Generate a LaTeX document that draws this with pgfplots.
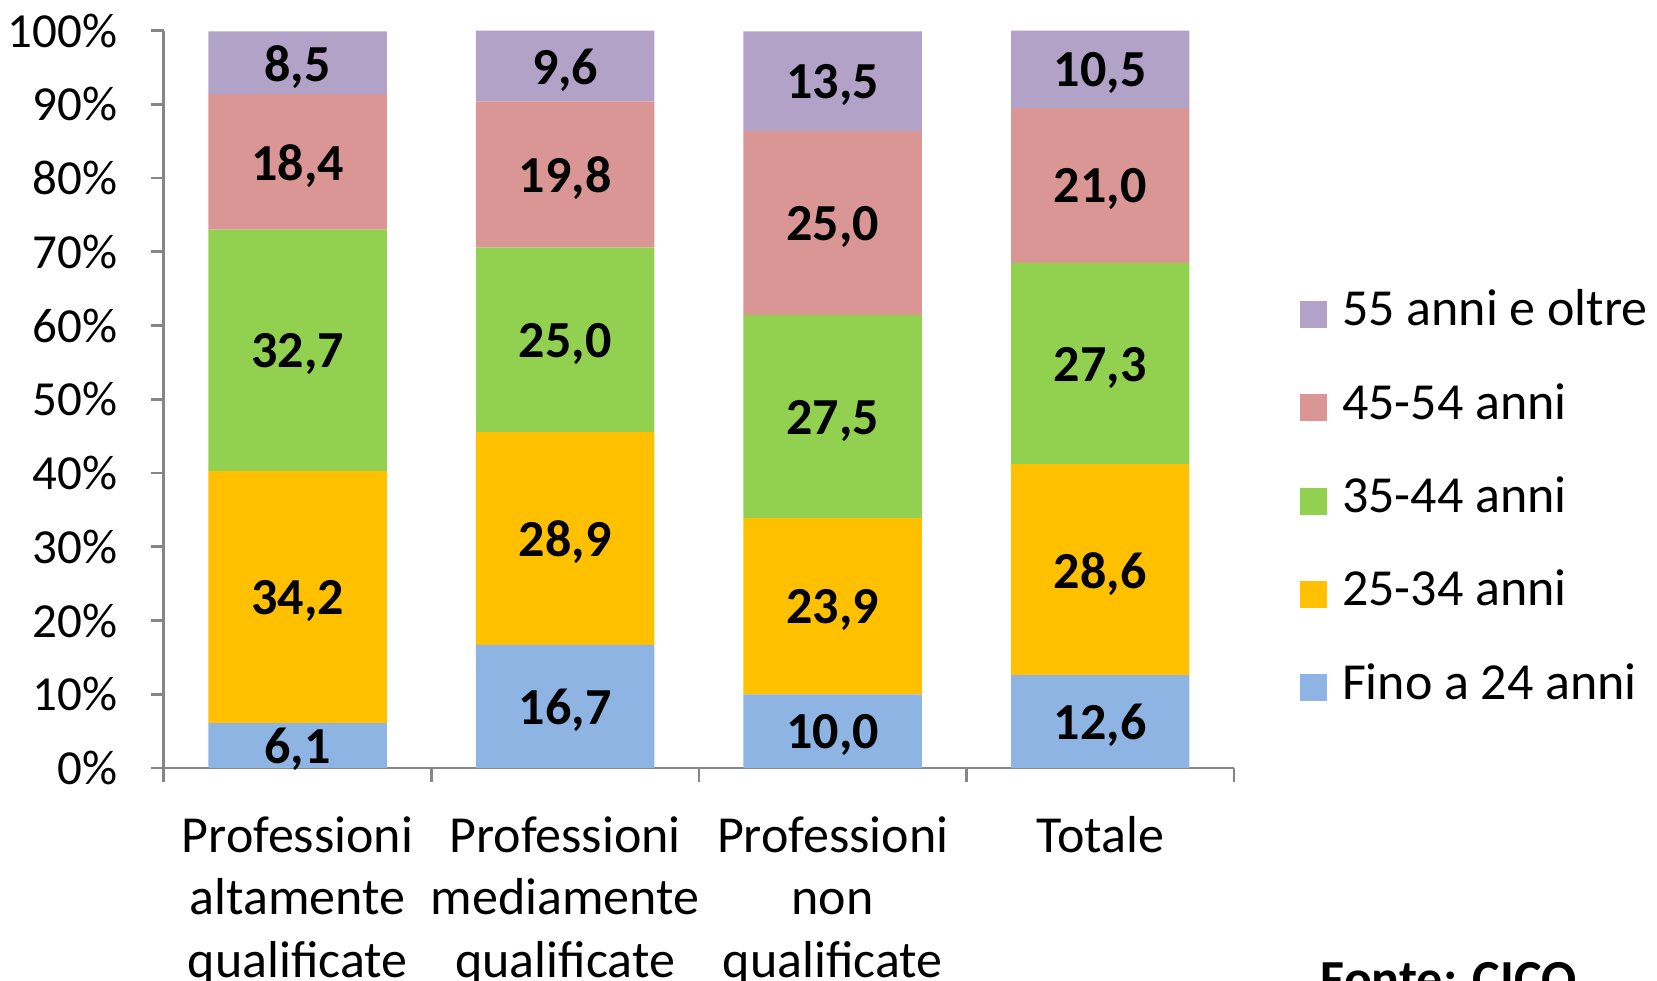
\documentclass[border=0pt]{standalone}
\usepackage{pgfplots}
\pgfplotsset{compat=1.18}
\usepackage{fontspec}
\setmainfont{Carlito}
\definecolor{cA}{HTML}{8EB4E3}
\definecolor{cB}{HTML}{FFC000}
\definecolor{cC}{HTML}{92D050}
\definecolor{cD}{HTML}{D99694}
\definecolor{cE}{HTML}{B3A2C7}
\definecolor{axgray}{HTML}{868686}
\newcommand{\bigf}{\fontsize{26}{31.2}\selectfont}
\newcommand{\tickf}{\fontsize{24.5}{30}\selectfont}
\begin{document}
\bigf
\begin{tikzpicture}[x=1pt,y=1pt]
\path[use as bounding box] (0,0) rectangle (828.5,-490);
\clip (0,0) rectangle (828.5,-490);
\begin{axis}[
  at={(81.9pt,-384pt)}, anchor=south west,
  scale only axis, width=535.1pt, height=368.7pt,
  ybar stacked, bar width=0.667,
  xmin=-0.5, xmax=3.5, ymin=0, ymax=100,
  axis x line*=bottom, axis y line*=left,
  axis line style={axgray, line width=1.4pt},
  ytick={0,10,...,100},
  yticklabel={\pgfmathprintnumber{\tick}\%},
  xtick={0,1,2,3},
  xticklabels={{Professioni\\altamente\\qualificate},{Professioni\\mediamente\\qualificate},{Professioni\\non\\qualificate},{Totale}},
  minor xtick={-0.5,0.5,1.5,2.5,3.5},
  tick align=outside,
  tick style={axgray, line width=1.4pt},
  major tick length=6.5pt, minor tick length=7pt,
  major x tick style={draw=none},
  xticklabel style={align=center, anchor=north, font=\bigf, yshift=-9pt},
  yticklabel style={font=\tickf, xshift=-8pt},
  /pgf/number format/assume math mode=true,
  reverse legend,
  legend style={at={(1.0617,0.362)}, anchor=west, draw=none, fill=none, inner sep=0pt, outer sep=0pt, row sep=23.2pt, column sep=7.5pt, font=\bigf, nodes={inner sep=0pt, text height=17.5pt, text depth=6pt}},
  legend cell align=left,
  legend image code/.code={\fill[#1] (0pt,-6.75pt) rectangle (13.5pt,6.75pt);},
]
\addplot[fill=cA, draw=none] coordinates {(0,6.1) (1,16.7) (2,10.0) (3,12.6)};
\addlegendentry{Fino a 24 anni}
\addplot[fill=cB, draw=none] coordinates {(0,34.2) (1,28.9) (2,23.9) (3,28.6)};
\addlegendentry{25-34 anni}
\addplot[fill=cC, draw=none] coordinates {(0,32.7) (1,25.0) (2,27.5) (3,27.3)};
\addlegendentry{35-44 anni}
\addplot[fill=cD, draw=none] coordinates {(0,18.4) (1,19.8) (2,25.0) (3,21.0)};
\addlegendentry{45-54 anni}
\addplot[fill=cE, draw=none] coordinates {(0,8.5) (1,9.6) (2,13.5) (3,10.5)};
\addlegendentry{55 anni e oltre}
\end{axis}
\begin{axis}[
  at={(81.9pt,-384pt)}, anchor=south west,
  scale only axis, width=535.1pt, height=368.7pt,
  xmin=-0.5, xmax=3.5, ymin=0, ymax=100,
  hide axis, clip=false,
]
\addplot[only marks, mark=*, mark size=0pt, mark options={draw=none, fill=none},
  nodes near coords, point meta=explicit symbolic,
  every node near coord/.append style={anchor=center, font=\bfseries\bigf, text=black, yshift=-2pt}]
  table[meta=lab] {
x y lab
0 3.05 6,1
0 23.2 34,2
0 56.65 32,7
0 82.2 18,4
0 95.65 8,5
1 8.35 16,7
1 31.15 28,9
1 58.1 25,0
1 80.5 19,8
1 95.2 9,6
2 5.0 10,0
2 21.95 23,9
2 47.65 27,5
2 73.9 25,0
2 93.15 13,5
3 6.3 12,6
3 26.9 28,6
3 54.85 27,3
3 79.0 21,0
3 94.75 10,5
};
\end{axis}
\node[anchor=base west, font=\bfseries\bigf] at (651.5,-498) {Fonte: CICO};
\end{tikzpicture}
\end{document}
